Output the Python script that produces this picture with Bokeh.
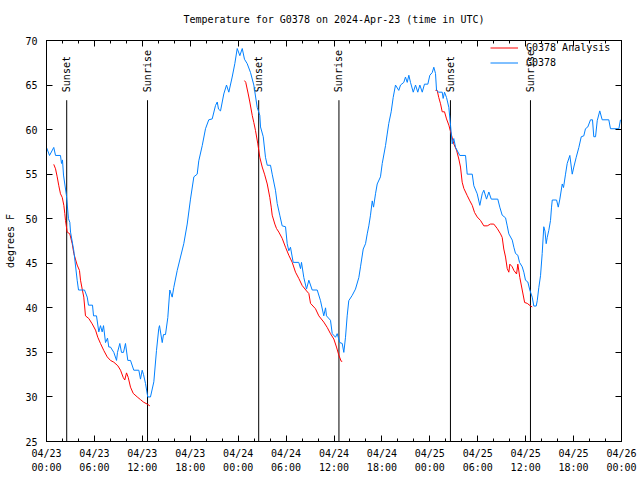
import numpy as np
from bokeh.plotting import figure
from bokeh.models import Range1d, FixedTicker, LinearAxis, Legend, LegendItem
from bokeh.core.properties import value
from bokeh.embed import file_html
from bokeh.resources import INLINE

TITLE = "Temperature for G0378 on 2024-Apr-23 (time in UTC)"
Y_LABEL = "degrees F"

# observed temperature (hours since 04/23 00:00 UTC, degrees F)
obs_hours = [0.00, 0.38, 0.91, 1.13, 1.75, 1.88, 2.00, 2.13, 2.50, 2.75, 2.92, 3.01, 3.42, 3.84, 4.01,
             4.76, 5.10, 5.26, 5.76, 5.89, 6.26, 6.55, 6.76, 6.97, 7.14, 7.39, 7.64, 7.80, 8.01, 8.43,
             8.77, 8.89, 9.18, 9.39, 9.64, 9.89, 10.18, 10.52, 10.93, 11.56, 11.77, 11.98, 12.15, 12.40,
             12.68, 13.02, 13.44, 13.77, 14.06, 14.15, 14.49, 14.65, 14.90, 15.19, 15.44, 15.74, 15.94,
             16.37, 16.78, 17.19, 17.62, 18.03, 18.45, 18.87, 19.07, 19.50, 19.91, 20.32, 20.75, 21.16,
             21.38, 21.54, 21.79, 22.20, 22.54, 22.83, 23.25, 23.58, 23.88, 24.21, 24.51, 24.79, 25.13,
             25.55, 25.96, 26.38, 26.71, 26.80, 27.14, 27.42, 27.64, 28.05, 28.26, 28.67, 28.89, 29.21,
             29.51, 29.93, 30.14, 30.34, 30.55, 30.89, 31.59, 31.81, 31.93, 32.22, 32.56, 32.85, 33.27,
             33.90, 34.31, 34.72, 34.94, 35.06, 35.56, 35.78, 36.19, 36.40, 36.73, 37.03, 37.23, 37.44,
             37.65, 37.85, 38.28, 38.69, 39.11, 39.32, 39.66, 39.95, 40.16, 40.36, 40.57, 40.79, 40.95,
             41.20, 41.41, 41.82, 42.04, 42.45, 42.66, 42.86, 43.16, 43.41, 43.70, 44.11, 44.33, 44.74,
             44.95, 45.17, 45.37, 45.58, 45.92, 46.21, 46.49, 46.75, 47.05, 47.33, 47.75, 48.00, 48.30,
             48.50, 48.71, 48.84, 49.12, 49.55, 49.67, 49.84, 50.09, 50.38, 50.59, 50.80, 51.00, 51.22,
             51.75, 52.47, 52.68, 53.31, 53.51, 53.93, 54.26, 54.56, 54.76, 55.10, 55.39, 55.69, 56.51,
             56.76, 57.06, 57.48, 57.69, 57.89, 58.32, 58.52, 58.73, 59.02, 59.23, 59.57, 59.77, 59.98,
             60.27, 60.52, 60.82, 61.02, 61.32, 61.45, 61.65, 61.86, 62.07, 62.27, 62.42, 62.57, 62.70,
             62.90, 63.11, 63.24, 63.33, 63.87, 64.08, 64.28, 64.58, 64.74, 64.99, 65.20, 65.53, 65.83,
             66.03, 66.33, 66.66, 66.96, 67.28, 67.49, 67.78, 68.12, 68.37, 68.53, 68.75, 68.96, 69.28,
             69.58, 70.41, 70.62, 71.67, 71.87]
obs_temp = [58.0, 57.1, 58.0, 57.1, 57.1, 56.2, 56.6, 54.9, 52.6, 50.0, 49.6, 48.5, 46.4, 43.1, 42.0,
            42.0, 41.2, 40.3, 40.3, 39.1, 39.1, 37.3, 38.0, 37.3, 38.0, 36.1, 36.6, 35.6, 35.6, 35.0,
            34.1, 35.0, 36.0, 35.0, 35.0, 36.0, 34.1, 34.1, 33.0, 33.0, 32.0, 33.0, 32.5, 31.5,
            30.0, 30.0, 31.7, 35.2, 37.7, 38.0, 36.1, 37.0, 37.0, 38.9, 42.0, 41.2, 42.3,
            44.2, 45.7, 47.2, 49.4, 52.2, 54.7, 55.0, 56.5, 58.2, 60.1, 61.1, 61.2, 62.7,
            63.1, 62.3, 62.1, 64.0, 65.0, 64.2, 65.9, 67.4, 69.1, 68.3, 69.1, 67.9, 67.4,
            66.4, 65.0, 62.5, 61.6, 60.3, 59.2, 56.9, 56.0, 56.0, 55.0, 53.2, 51.7, 50.4,
            49.2, 49.1, 47.2, 46.4, 46.8, 45.1, 45.1, 44.4, 45.1, 43.4, 42.1, 43.1, 42.0,
            42.0, 40.8, 39.1, 40.0, 39.1, 38.6, 37.1, 36.7, 37.1, 36.1, 36.0, 35.0, 36.7,
            39.1, 40.8, 41.4, 42.1, 43.4, 44.6, 46.6, 47.2, 48.3, 49.2, 50.4, 52.0, 51.3,
            52.8, 53.9, 54.7, 56.2, 58.2, 59.5, 60.7, 62.0, 63.6, 65.0, 64.4, 65.0, 65.3,
            65.9, 65.3, 66.1, 65.3, 64.2, 65.0, 64.2, 65.0, 64.2, 65.1, 65.1, 66.1, 66.4,
            67.0, 66.3, 64.4, 64.2, 64.2, 63.5, 64.2, 63.6, 62.5, 60.5, 58.4, 59.0, 58.0,
            57.1, 57.1, 55.0, 55.0, 53.7, 52.8, 51.5, 52.8, 53.2, 52.2, 53.0, 52.2, 52.2,
            51.3, 50.4, 50.1, 49.2, 48.3, 47.6, 46.8, 46.1, 45.9, 45.1, 44.6, 44.0, 43.1,
            42.9, 42.0, 41.2, 40.2, 40.2, 40.8, 42.3, 43.6, 46.1, 49.1, 48.6, 47.2, 47.9,
            48.7, 49.8, 51.3, 52.1, 52.1, 51.3, 52.2, 53.9, 53.5, 55.0, 56.2, 57.1, 55.0,
            55.8, 56.9, 58.0, 59.2, 59.3, 60.1, 60.3, 61.1, 61.1, 59.2, 59.2, 61.0, 62.1,
            61.1, 61.1, 60.1, 60.1, 61.1]

# analysis temperature, three nightly runs
ana1_hours = [0.91, 1.13, 1.34, 1.54, 1.75, 1.97, 2.17, 2.29, 2.38, 2.59, 2.92, 3.22, 3.42, 3.84, 4.13,
              4.26, 4.47, 4.67, 4.88, 5.30, 5.72, 6.14, 6.42, 6.76, 7.18, 7.60, 8.01, 8.43, 8.93, 9.27,
              9.60, 9.80, 10.02, 10.23, 10.52, 10.86, 11.36, 11.77, 12.18, 12.61, 12.94]
ana1_temp = [56.1, 55.6, 54.7, 53.7, 52.8, 52.4, 51.5, 50.6, 49.8, 48.5, 48.3, 47.2, 46.1, 44.8, 44.2,
             43.1, 42.1, 41.2, 39.1, 38.8, 38.2, 37.5, 36.7, 36.0, 35.2, 34.5, 34.1, 33.9, 33.5, 33.0,
             32.2, 31.9, 32.7, 32.2, 31.1, 30.4, 30.0, 29.7, 29.4, 29.2, 29.0]
ana2_hours = [24.79, 24.95, 25.26, 25.46, 25.76, 25.96, 26.17, 26.46, 26.71, 27.01, 27.30, 27.64, 27.96,
              28.14, 28.26, 28.59, 28.80, 29.09, 29.51, 29.93, 30.34, 30.77, 31.18, 31.59, 32.02, 32.56,
              32.85, 33.06, 33.68, 34.10, 34.72, 35.15, 35.56, 35.98, 36.31, 36.60, 36.90, 37.03]
ana2_temp = [65.5, 65.3, 64.0, 63.1, 61.6, 60.8, 59.9, 58.4, 56.9, 55.8, 55.0, 53.9, 52.4,
             51.3, 50.4, 49.4, 48.9, 48.5, 47.8, 46.8, 45.9, 45.1, 44.0, 43.3, 42.5, 41.9,
             41.6, 40.5, 39.9, 39.1, 38.4, 37.8, 37.1, 36.5, 35.6, 34.7, 34.0, 34.0]
ana3_hours = [48.71, 48.92, 49.12, 49.34, 49.55, 49.84, 50.09, 50.38, 50.68, 51.00, 51.34, 51.63, 51.84,
              52.05, 52.26, 52.68, 53.01, 53.31, 53.60, 53.93, 54.35, 54.76, 55.19, 55.60, 56.01, 56.44,
              56.85, 57.06, 57.26, 57.48, 57.69, 57.89, 58.02, 58.32, 58.52, 58.86, 59.02, 59.27, 59.57,
              59.87, 60.20, 60.62, 60.82]
ana3_temp = [64.4, 64.4, 63.6, 62.9, 62.0, 62.0, 61.2, 60.5, 59.5, 58.4, 57.7, 56.7, 55.8,
             54.1, 53.4, 52.6, 52.0, 51.5, 50.7, 50.2, 49.8, 49.2, 49.2, 49.4, 49.4, 48.9,
             48.3, 47.9, 46.6, 45.7, 44.4, 44.0, 44.9, 44.6, 44.2, 43.8, 44.9, 43.4, 42.0,
             40.6, 40.5, 40.2, 40.1]

# sun events
sun_hours = [2.53, 12.65, 26.57, 36.62, 50.58, 60.60]
sun_labels = ["Sunset", "Sunrise", "Sunset", "Sunrise", "Sunset", "Sunrise"]

x_ticks = [0, 6, 12, 18, 24, 30, 36, 42, 48, 54, 60, 66, 72]
x_tick_labels = ["04/23\n00:00", "04/23\n06:00", "04/23\n12:00", "04/23\n18:00",
                 "04/24\n00:00", "04/24\n06:00", "04/24\n12:00", "04/24\n18:00",
                 "04/25\n00:00", "04/25\n06:00", "04/25\n12:00", "04/25\n18:00",
                 "04/26\n00:00"]
x_minor = list(range(0, 73, 2))
y_ticks = [25, 30, 35, 40, 45, 50, 55, 60, 65, 70]

FONT = "DejaVu Sans Mono"
FS = "10px"
BLUE = "#0080ff"
RED = "#ff0000"

p = figure(frame_width=575, frame_height=401, x_range=Range1d(0, 72), y_range=Range1d(25, 70),
           output_backend="svg", toolbar_location=None, title=TITLE,
           min_border_left=46, min_border_top=40, min_border_right=19, min_border_bottom=0,
           x_axis_type=None, y_axis_type=None)
p.title.align = "center"
p.title.vertical_align = "top"
p.title.text_font = FONT
p.title.text_font_size = FS
p.title.text_font_style = "normal"
p.title.text_color = "black"
p.title.standoff = 27
p.grid.visible = False
p.outline_line_color = "black"
p.outline_line_width = 1
p.background_fill_color = "white"
p.border_fill_color = "white"


def style_axis(ax, show_labels, minor):
    ax.axis_line_color = "black"
    ax.major_tick_in = 6
    ax.major_tick_out = 0
    ax.minor_tick_in = 3 if minor else 0
    ax.minor_tick_out = 0
    ax.major_tick_line_color = "black"
    ax.minor_tick_line_color = "black" if minor else None
    ax.major_label_text_font = FONT
    ax.axis_label_text_font = FONT
    ax.axis_label_text_font_size = FS
    ax.axis_label_text_font_style = "normal"
    ax.axis_label_text_color = "black"
    if show_labels:
        ax.major_label_text_font_size = FS
        ax.major_label_text_color = "black"
    else:
        ax.major_label_text_font_size = "1px"
        ax.major_label_text_color = None
        ax.major_label_standoff = 0


xb = LinearAxis(ticker=FixedTicker(ticks=x_ticks, minor_ticks=x_minor))
xb.major_label_overrides = {t: lab for t, lab in zip(x_ticks, x_tick_labels)}
style_axis(xb, True, True)
xb.major_label_standoff = 6
xb.major_label_text_line_height = 1.3
p.add_layout(xb, "below")

xt = LinearAxis(ticker=FixedTicker(ticks=x_ticks, minor_ticks=x_minor))
style_axis(xt, False, True)
p.add_layout(xt, "above")

yl = LinearAxis(ticker=FixedTicker(ticks=y_ticks, minor_ticks=[]), axis_label=Y_LABEL)
style_axis(yl, True, False)
yl.major_label_standoff = 9
yl.axis_label_standoff = 6
p.add_layout(yl, "left")

yr = LinearAxis(ticker=FixedTicker(ticks=y_ticks, minor_ticks=[]))
style_axis(yr, False, False)
p.add_layout(yr, "right")

# sunrise / sunset markers
p.segment(x0=sun_hours, y0=[25] * len(sun_hours), x1=sun_hours, y1=[63.3] * len(sun_hours),
          line_color="black", line_width=1)
p.text(x=sun_hours, y=[64.2] * len(sun_hours), text=sun_labels, angle=np.pi / 2,
       text_font=value(FONT), text_font_size=FS, text_align="left", text_baseline="middle",
       text_color="black")

nan = [float("nan")]
ana_hours = ana1_hours + nan + ana2_hours + nan + ana3_hours
ana_temp = ana1_temp + nan + ana2_temp + nan + ana3_temp
r_ana = p.line(ana_hours, ana_temp, line_color=RED, line_width=1)
r_obs = p.line(obs_hours, obs_temp, line_color=BLUE, line_width=1)

legend = Legend(items=[LegendItem(label="G0378 Analysis", renderers=[r_ana]),
                       LegendItem(label="G0378", renderers=[r_obs])],
                location="top_right")
legend.label_text_font = FONT
legend.label_text_font_size = FS
legend.label_text_color = "black"
legend.background_fill_alpha = 0
legend.border_line_color = None
legend.glyph_width = 28
legend.glyph_height = 15
legend.label_height = 15
legend.label_width = 95
legend.spacing = 0
legend.padding = 0
legend.margin = 0
legend.label_standoff = 8
p.add_layout(legend, "center")

open("out.html", "w").write(file_html(p, INLINE))
